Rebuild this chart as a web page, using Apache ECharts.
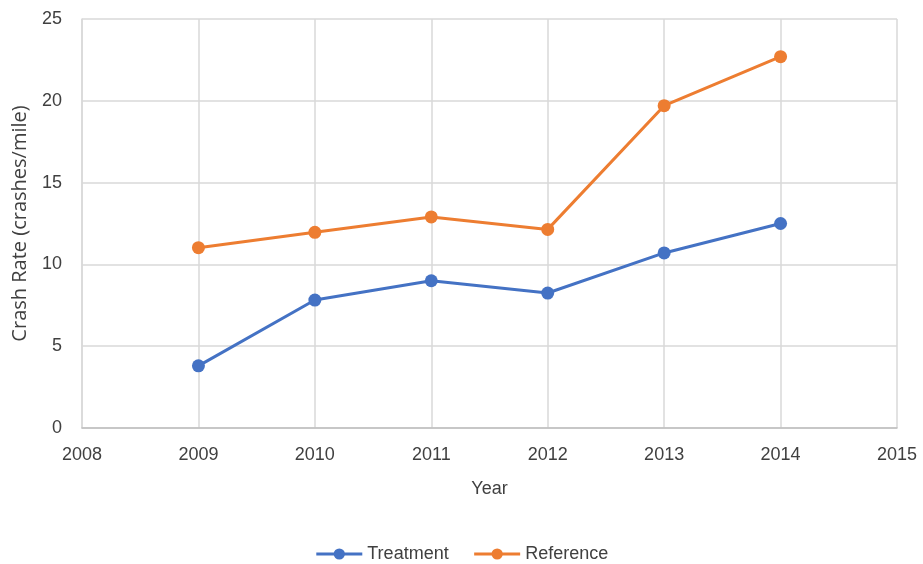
<!DOCTYPE html>
<html>
<head>
<meta charset="utf-8">
<script src="https://cdn.jsdelivr.net/npm/echarts@6/dist/echarts.min.js"></script>
<style>
  html, body { margin: 0; padding: 0; background: #fff; }
  #chart { width: 923px; height: 564px; }
</style>
</head>
<body>
<div id="chart"></div>
<script>
const years = [2009, 2010, 2011, 2012, 2013, 2014]
const treatment = [3.8, 7.82, 9.0, 8.25, 10.7, 12.5]
const reference = [11.02, 11.96, 12.9, 12.14, 19.7, 22.7]

const chart = echarts.init(document.getElementById('chart'))

const tickFont = { color: '#404040', fontSize: 18, fontFamily: 'Liberation Sans Narrow, Liberation Sans, sans-serif' }

const makeSeries = (name, values, color) => ({
  name: name,
  type: 'line',
  symbol: 'circle',
  symbolSize: 13,
  showSymbol: true,
  lineStyle: { color: color, width: 3 },
  itemStyle: { color: color },
  data: years.map((y, i) => [y, values[i]])
})

chart.setOption({
  animation: false,
  grid: { left: 82, right: 26, top: 19, bottom: 136, containLabel: false },
  legend: {
    top: 540,
    left: 'center',
    itemWidth: 46,
    itemHeight: 14,
    itemGap: 24,
    itemStyle: { borderWidth: 0 },
    lineStyle: { width: 3 },
    textStyle: { color: '#404040', fontSize: 18, fontFamily: 'Liberation Sans Narrow, Liberation Sans, sans-serif' },
    data: ['Treatment', 'Reference']
  },
  xAxis: {
    type: 'value',
    min: 2008,
    max: 2015,
    interval: 1,
    name: 'Year',
    nameLocation: 'middle',
    nameGap: 52,
    nameTextStyle: tickFont,
    axisLine: { show: true, lineStyle: { color: '#bfbfbf', width: 1.5 } },
    axisTick: { show: false },
    axisLabel: { ...tickFont, margin: 18, formatter: v => String(v) },
    splitLine: { show: true, lineStyle: { color: '#d9d9d9', width: 1.5 } }
  },
  yAxis: {
    type: 'value',
    min: 0,
    max: 25,
    interval: 5,
    name: 'Crash Rate (crashes/mile)',
    nameLocation: 'middle',
    nameGap: 52,
    nameTextStyle: { color: '#404040', fontSize: 20, fontFamily: 'Open Sans, sans-serif' },
    axisLine: { show: true, lineStyle: { color: '#d9d9d9', width: 1.5 } },
    axisTick: { show: false },
    axisLabel: { ...tickFont, margin: 20 },
    splitLine: { show: true, lineStyle: { color: '#d9d9d9', width: 1.5 } }
  },
  series: [
    makeSeries('Treatment', treatment, '#4472C4'),
    makeSeries('Reference', reference, '#ED7D31')
  ]
})
</script>
</body>
</html>
